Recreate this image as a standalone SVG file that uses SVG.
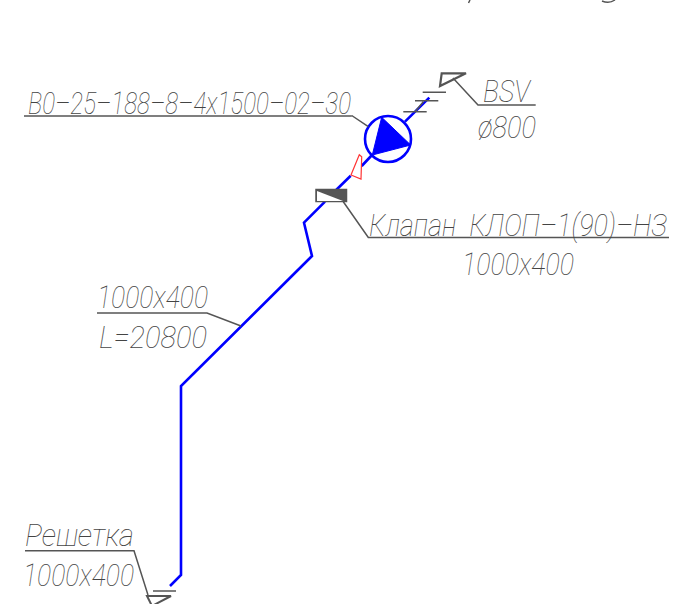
<svg xmlns="http://www.w3.org/2000/svg" width="674" height="604" viewBox="0 0 674 604">
<style>
.t{font-family:Roboto,"Liberation Sans",sans-serif;font-weight:100;font-style:italic;font-size:32px;fill:#444;white-space:pre}
.l{fill:none;stroke:#555;stroke-width:1.5}
.b{fill:none;stroke:#0000ff;stroke-width:2.6}
</style>
<rect width="674" height="604" fill="#fff"/>
<g id="connectors">
<path class="b" d="M429.3 97.7L405 121.7M372 155L361.7 166M350.7 175.7L330 196M325 201.7L304 222.7L312 256L181 386V575L170 586"/>
</g>
<g id="top-fragments">
<path class="l" d="M470 0L468.500 3M602 1Q609 4 615 0" stroke-width="2"/>
</g>
<g id="pump">
<circle cx="388" cy="139" r="23" fill="#fff" stroke="#0000ff" stroke-width="2.6"/>
<polygon points="381.700,117.300 410.700,145 372.300,155" fill="#0000ff" stroke="#0000ff"/>
<path class="l" d="M351.700 115.500L368.300 126.700M24 116H351.700"/>
<text class="t" x="28" y="114" textLength="323" lengthAdjust="spacingAndGlyphs">B0–25–188–8–4x1500–02–30</text>
</g>
<g id="outlet">
<path class="l" d="M422.700 92.300H446M415 100.700H438.300M403.300 111.700H426.700M415 111.700L423.300 101.700"/>
<polygon points="441.700,73.300 466,73.300 440,86" fill="#fff" stroke="#555" stroke-width="2.200"/>
<path class="l" d="M453 78L478 105H535.700"/>
<text class="t" x="483" y="102" textLength="47" lengthAdjust="spacingAndGlyphs">BSV</text>
<text class="t" x="478" y="138" textLength="58" lengthAdjust="spacingAndGlyphs">ø800</text>
</g>
<g id="red-mark">
<polygon points="359.300,154.700 361.700,156.700 361,179 351,175" fill="#fff" stroke="#ff3333" stroke-width="1.200"/>
</g>
<g id="valve">
<rect x="316" y="189.500" width="30.500" height="12" fill="#555" stroke="#555" stroke-width="1.500"/>
<polygon points="317,191 343,201 317,201" fill="#fff"/>
<path class="l" d="M343.300 201.700L368.300 237.500H669"/>
<text class="t" transform="translate(369 236) scale(.85 1)" xml:space="preserve" textLength="350.600" lengthAdjust="spacingAndGlyphs">Клапан  КЛОП–1(90)–НЗ</text>
<text class="t" x="462" y="275" textLength="112" lengthAdjust="spacingAndGlyphs">1000x400</text>
</g>
<g id="duct-label">
<path class="l" d="M97 313H207L241 326"/>
<text class="t" x="97" y="308" textLength="111" lengthAdjust="spacingAndGlyphs">1000x400</text>
<text class="t" x="99" y="348" textLength="108" lengthAdjust="spacingAndGlyphs">L=20800</text>
</g>
<g id="grille">
<path class="l" d="M25 550.700H134L148 595M153 591H176"/>
<polygon points="147,596 171,596 152,606" fill="#fff" stroke="#555" stroke-width="2"/>
<text class="t" x="25" y="546" textLength="109" lengthAdjust="spacingAndGlyphs">Решетка</text>
<text class="t" x="23" y="586" textLength="111" lengthAdjust="spacingAndGlyphs">1000x400</text>
</g>
</svg>
